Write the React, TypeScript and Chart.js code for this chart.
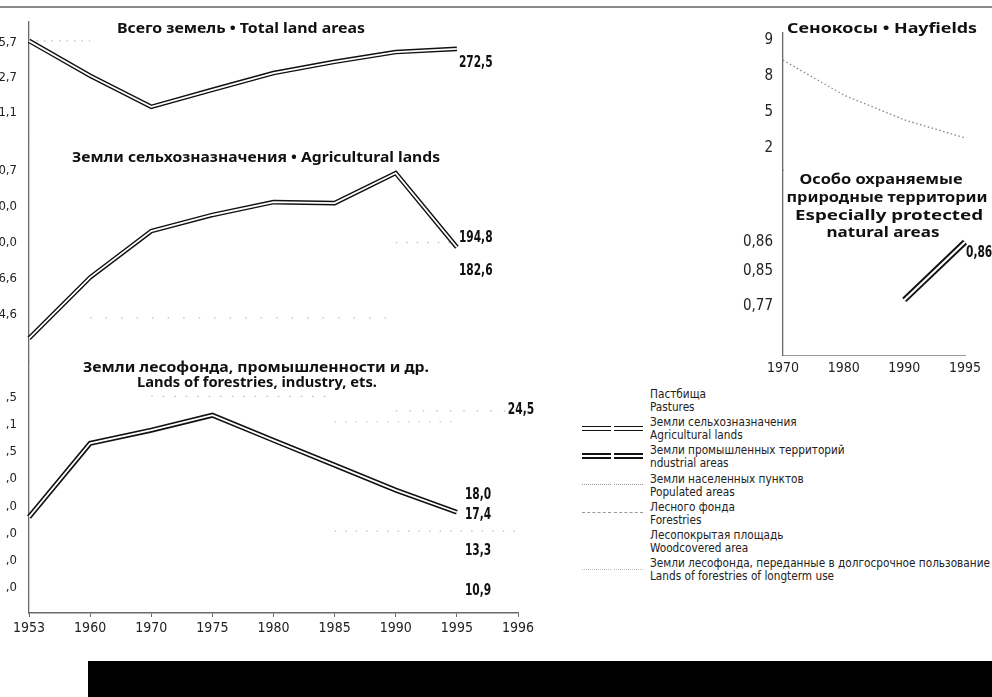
import React, { useEffect, useLayoutEffect, useRef } from 'react';
import { Chart, registerables } from 'chart.js';

Chart.register(...registerables);

// ---------- data (left block) ----------
const years = ['1953', '1960', '1970', '1975', '1980', '1985', '1990', '1995', '1996'];

// Всего земель • Total land areas (values in tick units of its own axis)
const totalTickValues = [1, 2, 3];
const totalTickLabels = ['1,1', '2,7', '5,7'];
const totalLand = [3.06, 2.06, 1.17, 1.66, 2.14, 2.46, 2.74, 2.83, null];
const totalPopulated = [3.06, 3.06, null, null, null, null, null, null, null];
const totalEndLabels = [{ text: '272,5', year: '1995', value: 2.43 }];

// Земли сельхозназначения • Agricultural lands
const agriTickValues = [1, 2, 3, 4, 5];
const agriTickLabels = ['4,6', '6,6', '0,0', '0,0', '0,7'];
const agriLands = [0.33, 2.03, 3.32, 3.77, 4.13, 4.1, 4.94, 2.87, null];
const agriPopulated = [null, null, null, null, null, null, 3.0, 3.0, null];
const agriForestries = [null, 0.9, 0.9, 0.9, 0.9, 0.9, 0.9, null, null];
const agriEndLabels = [
  { text: '194,8', year: '1995', value: 3.13 },
  { text: '182,6', year: '1995', value: 2.2 },
];

// Земли лесофонда, промышленности и др.
const forestTickValues = [1, 2, 3, 4, 5, 6, 7, 8];
const forestTickLabels = [',0', ',0', ',0', ',0', ',0', ',5', ',1', ',5'];
const forestLands = [3.6, 6.31, 6.79, 7.34, 6.42, 5.51, 4.59, 3.78, null];
const forestPopulated = [null, null, 8.03, 8.03, 8.03, 8.03, null, null, null];
const forestForestries = [null, null, null, null, null, 7.1, 7.1, 7.1, null];
const forestLongterm = [null, null, null, null, null, null, 7.5, 7.5, 7.5];
const forestWood = [null, null, null, null, null, 3.09, 3.09, 3.09, 3.09];
const forestEndLabels = [
  { text: '24,5', year: '1996', value: 7.52 },
  { text: '18,0', year: '1995', value: 4.41 },
  { text: '17,4', year: '1995', value: 3.67 },
  { text: '13,3', year: '1995', value: 2.36 },
  { text: '10,9', year: '1995', value: 0.89 },
];

// ---------- data (right block) ----------
const rightYears = ['1970', '1980', '1990', '1995'];
const hayTickValues = [1, 2, 3, 4];
const hayTickLabels = ['2', '5', '8', '9'];
const hayfields = [3.44, 2.47, 1.78, 1.28];
const protTickValues = [1, 2.09, 3];
const protTickLabels = ['0,77', '0,85', '0,86'];
const protectedAreas = [null, null, 1.19, 3.0];
const protEndLabels = [{ text: '0,86', year: '1995', value: 2.66 }];

// ---------- legend ----------
const legendItems = [
  { ru: 'Пастбища', en: 'Pastures', symbol: 'none' },
  { ru: 'Земли сельхозназначения', en: 'Agricultural lands', symbol: 'double' },
  { ru: 'Земли промышленных территорий', en: 'ndustrial areas', symbol: 'heavy' },
  { ru: 'Земли населенных пунктов', en: 'Populated areas', symbol: 'dotted' },
  { ru: 'Лесного фонда', en: 'Forestries', symbol: 'dashed' },
  { ru: 'Лесопокрытая площадь', en: 'Woodcovered area', symbol: 'none' },
  { ru: 'Земли лесофонда, переданные в долгосрочное пользование', en: 'Lands of forestries of longterm use', symbol: 'sparse' },
];

const NARROW = "'Liberation Sans Narrow', 'DejaVu Sans Condensed', sans-serif";
const TITLE_FONT = "bold 15px 'Noto Sans', 'DejaVu Sans', sans-serif";

type EndLabel = { text: string; year: string; value: number };
type LabelGroup = { axis: string; labels: EndLabel[]; dx: number };

function endLabelPlugin(groups: LabelGroup[]) {
  return {
    id: 'endLabels',
    afterDatasetsDraw(chart: any) {
      const { ctx } = chart;
      const xs = chart.scales.x;
      const cats: string[] = chart.data.labels;
      ctx.save();
      ctx.font = `bold 16px ${NARROW}`;
      ctx.fillStyle = '#111';
      ctx.textBaseline = 'middle';
      for (const g of groups) {
        const ys = chart.scales[g.axis];
        for (const l of g.labels) {
          const idx = cats.indexOf(l.year);
          const px = xs.getPixelForValue(idx);
          const py = ys.getPixelForValue(l.value);
          const isLast = idx === cats.length - 1 && cats.length > 4;
          ctx.save();
          ctx.translate(isLast ? px + 3 : px + g.dx, py);
          ctx.scale(0.74, 1);
          ctx.textAlign = isLast ? 'center' : 'left';
          ctx.fillText(l.text, 0, 0);
          ctx.restore();
        }
      }
      ctx.restore();
    },
  };
}

function yAxis(min: number, max: number, weight: number, tickValues: number[], tickLabels: string[], width: number, padding: number, size: number) {
  return {
    type: 'linear',
    position: 'left',
    stack: 'panels',
    stackWeight: weight,
    min,
    max,
    grid: { display: false, drawTicks: false },
    border: { display: true, color: '#6a6a6a', width: 1.3 },
    ticks: {
      padding,
      autoSkip: false,
      color: '#222',
      font: { family: NARROW, size },
      callback: (v: number) => {
        const i = tickValues.indexOf(v);
        return i >= 0 ? tickLabels[i] : '';
      },
    },
    afterBuildTicks: (s: any) => {
      s.ticks = tickValues.map((v) => ({ value: v }));
    },
    afterFit: (s: any) => {
      s.width = width;
    },
  };
}

function doubleLine(data: (number | null)[], axis: string, outer: number, inner: number) {
  return [
    { data, yAxisID: axis, borderColor: '#ffffff', borderWidth: inner, pointRadius: 0, order: 0, tension: 0 },
    { data, yAxisID: axis, borderColor: '#111111', borderWidth: outer, pointRadius: 0, order: 1, tension: 0 },
  ];
}

function faint(data: (number | null)[], axis: string, dash: number[]) {
  return { data, yAxisID: axis, borderColor: '#bdbdbd', borderWidth: 1.2, borderDash: dash, pointRadius: 0, order: 2 };
}

function leftConfig(): any {
  return {
    type: 'line',
    data: {
      labels: years,
      datasets: [
        ...doubleLine(totalLand, 'yTop', 4.6, 1.8),
        ...doubleLine(agriLands, 'yMid', 4.6, 1.8),
        ...doubleLine(forestLands, 'yBot', 5, 1.8),
        faint(totalPopulated, 'yTop', [1.5, 6]),
        faint(agriPopulated, 'yMid', [1.5, 9]),
        faint(agriForestries, 'yMid', [1.5, 14]),
        faint(forestPopulated, 'yBot', [1.5, 10]),
        faint(forestForestries, 'yBot', [1.5, 9]),
        faint(forestLongterm, 'yBot', [1.5, 12]),
        faint(forestWood, 'yBot', [1.5, 9]),
      ],
    },
    options: {
      animation: false,
      responsive: true,
      maintainAspectRatio: false,
      layout: { padding: { top: 22, right: 42, left: 0, bottom: 0 } },
      plugins: { legend: { display: false }, tooltip: { enabled: false } },
      scales: {
        x: {
          type: 'category',
          offset: false,
          grid: { display: true, drawOnChartArea: false, drawTicks: true, tickLength: 4, color: '#6a6a6a' },
          border: { color: '#6a6a6a', width: 1.5 },
          ticks: { padding: 3, autoSkip: false, maxRotation: 0, color: '#222', font: { family: NARROW, size: 14 } },
          afterFit: (s: any) => {
            s.height = 37;
          },
        },
        yBot: yAxis(0.084, 9.35, 253, forestTickValues, forestTickLabels, 29, 12, 13),
        yMid: yAxis(-0.287, 5.84, 220, agriTickValues, agriTickLabels, 29, 12, 13),
        yTop: yAxis(0.2, 3.6, 119, totalTickValues, totalTickLabels, 29, 12, 13),
      },
    },
    plugins: [
      endLabelPlugin([
        { axis: 'yTop', labels: totalEndLabels, dx: 2 },
        { axis: 'yMid', labels: agriEndLabels, dx: 2 },
        { axis: 'yBot', labels: forestEndLabels, dx: 8 },
      ]),
    ],
  };
}

function rightConfig(): any {
  return {
    type: 'line',
    data: {
      labels: rightYears,
      datasets: [
        ...doubleLine(protectedAreas, 'yProt', 6, 2.2),
        { data: hayfields, yAxisID: 'yHay', borderColor: '#8a8a8a', borderWidth: 1.4, borderDash: [1.5, 2.5], pointRadius: 0, order: 2 },
      ],
    },
    options: {
      animation: false,
      responsive: true,
      maintainAspectRatio: false,
      layout: { padding: { top: 33, right: 27, left: 0, bottom: 0 } },
      plugins: { legend: { display: false }, tooltip: { enabled: false } },
      scales: {
        x: {
          type: 'category',
          offset: false,
          grid: { display: false, drawTicks: false },
          border: { color: '#9a9a9a', width: 1, dash: [3, 4] },
          ticks: { padding: 5, autoSkip: false, maxRotation: 0, color: '#222', font: { family: NARROW, size: 14 } },
          afterFit: (s: any) => {
            s.height = 25;
          },
        },
        yProt: yAxis(-0.53, 5.25, 185, protTickValues, protTickLabels, 83, 10, 15),
        yHay: yAxis(0.39, 4.19, 137, hayTickValues, hayTickLabels, 83, 10, 15),
      },
    },
    plugins: [endLabelPlugin([{ axis: 'yProt', labels: protEndLabels, dx: 1 }])],
  };
}

function FitText({ text, cx, cy, width, font }: { text: string; cx: number; cy: number; width: number; font: string }) {
  const ref = useRef<HTMLSpanElement>(null);
  useLayoutEffect(() => {
    const el = ref.current;
    if (!el) return;
    el.style.transform = 'translate(-50%, -50%)';
    const w = el.getBoundingClientRect().width;
    if (w > 0) el.style.transform = `translate(-50%, -50%) scaleX(${width / w})`;
  }, [text, width, font]);
  return (
    <span
      ref={ref}
      style={{
        position: 'absolute',
        left: cx,
        top: cy,
        whiteSpace: 'nowrap',
        font,
        lineHeight: 1,
        color: '#111',
        transform: 'translate(-50%, -50%)',
        transformOrigin: 'center center',
      }}
    >
      {text}
    </span>
  );
}

function LegendSymbol({ kind }: { kind: string }) {
  const seg = (style: React.CSSProperties) => (
    <div style={{ display: 'flex', gap: 3, alignItems: 'center', width: 61 }}>
      <div style={{ flex: 1, boxSizing: 'border-box', ...style }} />
      <div style={{ flex: 1, boxSizing: 'border-box', ...style }} />
    </div>
  );
  if (kind === 'double') return seg({ height: 5, borderTop: '1.5px solid #111', borderBottom: '1.5px solid #111', background: '#fff' });
  if (kind === 'heavy') return seg({ height: 6, borderTop: '2.5px solid #111', borderBottom: '2.5px solid #111', background: '#fff' });
  if (kind === 'dotted') return seg({ height: 0, borderTop: '1.5px dotted #9a9a9a' });
  if (kind === 'dashed') return seg({ height: 0, borderTop: '1.2px dashed #9a9a9a' });
  if (kind === 'sparse') return seg({ height: 0, borderTop: '1.5px dotted #bbbbbb' });
  return <div style={{ width: 61 }} />;
}

function LegendText() {
  const ref = useRef<HTMLDivElement>(null);
  useLayoutEffect(() => {
    const el = ref.current;
    if (!el) return;
    el.style.transform = 'none';
    const w = el.getBoundingClientRect().width;
    if (w > 0) el.style.transform = `scaleX(${340 / w})`;
  }, []);
  return (
    <div
      ref={ref}
      style={{ position: 'absolute', left: 650, top: 386, display: 'inline-block', transformOrigin: 'left top', fontFamily: NARROW, fontSize: 12.5, lineHeight: '13px', color: '#222', whiteSpace: 'nowrap' }}
    >
      {legendItems.map((it) => (
        <div key={it.ru} style={{ height: 28.2, display: 'flex', flexDirection: 'column', justifyContent: 'center' }}>
          <div>{it.ru}</div>
          <div>{it.en}</div>
        </div>
      ))}
    </div>
  );
}

export default function App() {
  const leftRef = useRef<HTMLCanvasElement>(null);
  const rightRef = useRef<HTMLCanvasElement>(null);

  useEffect(() => {
    const left = new Chart(leftRef.current as HTMLCanvasElement, leftConfig());
    const right = new Chart(rightRef.current as HTMLCanvasElement, rightConfig());
    return () => {
      left.destroy();
      right.destroy();
    };
  }, []);

  return (
    <div style={{ position: 'absolute', left: 0, top: 0, width: 992, height: 697, overflow: 'hidden', background: '#fff' }}>
      <div style={{ position: 'absolute', left: 0, top: 6, width: 992, height: 2, background: '#8a8a8a' }} />
      <div style={{ position: 'absolute', left: 0, top: 0, width: 560, height: 650 }}>
        <canvas ref={leftRef} />
      </div>
      <div style={{ position: 'absolute', left: 700, top: 0, width: 292, height: 380 }}>
        <canvas ref={rightRef} />
      </div>

      <FitText text="Всего земель • Total land areas" cx={241} cy={27} width={248} font={TITLE_FONT} />
      <FitText text="Земли сельхозназначения • Agricultural lands" cx={256} cy={156} width={368} font={TITLE_FONT} />
      <FitText text="Земли лесофонда, промышленности и др." cx={256} cy={366} width={346} font={TITLE_FONT} />
      <FitText text="Lands of forestries, industry, ets." cx={257} cy={381} width={240} font={TITLE_FONT} />

      <FitText text="Сенокосы • Hayfields" cx={882} cy={27} width={190} font={TITLE_FONT} />
      <FitText text="Особо охраняемые" cx={881} cy={178} width={163} font={TITLE_FONT} />
      <FitText text="природные территории" cx={887} cy={196} width={201} font={TITLE_FONT} />
      <FitText text="Especially protected" cx={889} cy={214} width={188} font={TITLE_FONT} />
      <FitText text="natural areas" cx={883} cy={231} width={113} font={TITLE_FONT} />

      <div style={{ position: 'absolute', left: 582, top: 386 }}>
        {legendItems.map((it) => (
          <div key={it.ru} style={{ display: 'flex', alignItems: 'center', height: 28.2 }}>
            <LegendSymbol kind={it.symbol} />
          </div>
        ))}
      </div>
      <LegendText />

      <div style={{ position: 'absolute', left: 88, top: 661, width: 904, height: 36, background: '#000' }} />
    </div>
  );
}
